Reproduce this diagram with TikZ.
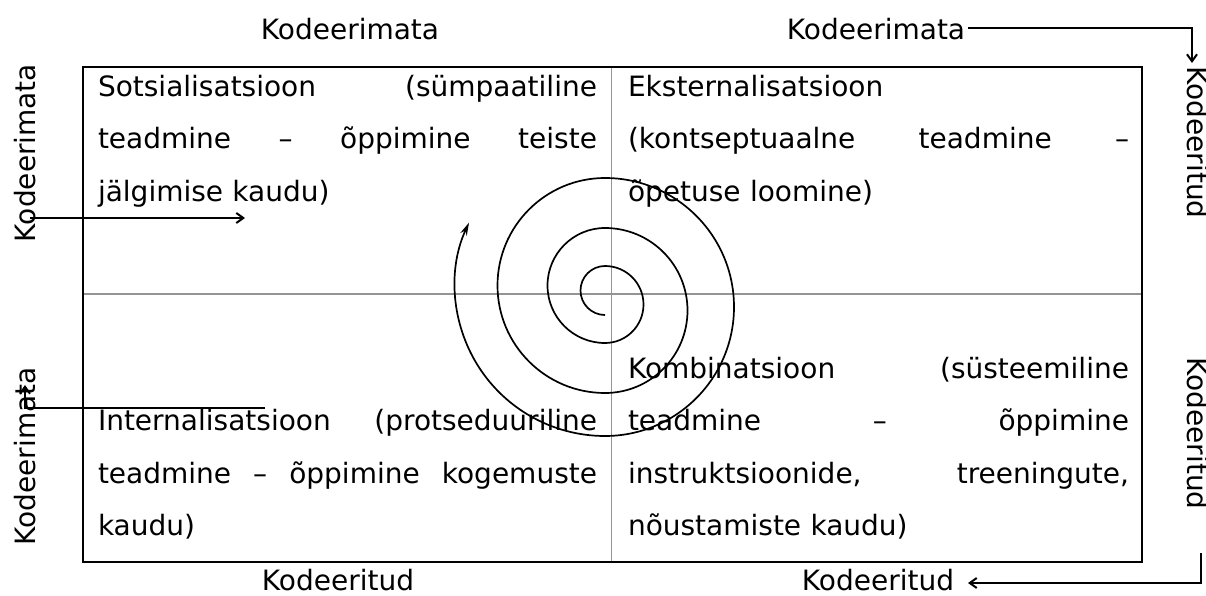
\documentclass[tikz,border=0pt]{standalone}
\usepackage{fontspec}
\setmainfont{DejaVu Sans}
\usetikzlibrary{arrows.meta}
\newcommand{\jl}[2]{\leavevmode\hbox to #1pt{#2}}
\begin{document}
\begin{tikzpicture}[x=1pt,y=1pt,
  txt/.style={font=\fontsize{28}{52.5}\selectfont, inner sep=0pt, outer sep=0pt},
  cell/.style={txt, anchor=base west, align=left},
  lab/.style={txt, anchor=base},
  frame/.style={line width=2.4pt},
  divider/.style={line width=1.5pt, draw=black!42},
  conn/.style={line width=2pt, -{Straight Barb[length=7pt,width=10pt]}},
  spiral/.style={line width=1.7pt}]
\useasboundingbox (0,0) rectangle (1206,595);

% dividers and frame
\draw[divider] (611.5,33) -- (611.5,528);
\draw[divider] (83,301) -- (1142,301);
\draw[frame] (83,33) rectangle (1142,528);

% cell texts
\node[cell, text width=499pt] (tl) at (98,498.5)
  {\jl{499}{Sotsialisatsioon\hfill(sümpaatiline}\\\jl{499}{teadmine\hfill–\hfill õppimine\hfill teiste}\\jälgimise kaudu)};
\node[cell, text width=501pt] (tr) at (628,498.5)
  {Eksternalisatsioon\\\jl{501}{(kontseptuaalne\hfill teadmine\hfill–}\\õpetuse loomine)};
\node[cell, text width=499pt] (bl) at (98,164.5)
  {\jl{499}{Internalisatsioon\hfill(protseduuriline}\\\jl{499}{teadmine\hfill–\hfill õppimine\hfill kogemuste}\\kaudu)};
\node[cell, text width=501pt] (br) at (628,217)
  {\jl{501}{Kombinatsioon\hfill(süsteemiline}\\\jl{501}{teadmine\hfill–\hfill õppimine}\\\jl{501}{instruktsioonide,\hfill treeningute,}\\nõustamiste kaudu)};

% outer labels
\node[lab] (kt1) at (350,555) {Kodeerimata};
\node[lab] (kt2) at (876,555) {Kodeerimata};
\node[lab] (kb1) at (338,5) {Kodeeritud};
\node[lab] (kb2) at (878,5) {Kodeeritud};
\node[lab, rotate=90] (kl1) at (35,442) {Kodeerimata};
\node[lab, rotate=90] (kl2) at (35,138.5) {Kodeerimata};
\node[lab, rotate=-90] (kr1) at (1187,452.5) {Kodeeritud};
\node[lab, rotate=-90] (kr2) at (1187,161.5) {Kodeeritud};

% connectors
\coordinate (trA) at (968,567);
\coordinate (trB) at (1192,532);
\coordinate (brA) at (1201,42);
\coordinate (brB) at (968,12);
\coordinate (ltA) at (30,377);
\coordinate (ltB) at (245,377);
\coordinate (lbA) at (265,187);
\coordinate (lbB) at (25,210);
\draw[conn] (trA) -| (trB);
\draw[conn] (brA) |- (brB);
\draw[conn] (ltA) -- (ltB);
\draw[conn] (lbA) -| (lbB);

% spiral
\draw[spiral, -{Stealth[length=13pt,width=7pt]}] (605,280)
  arc[start angle=270, end angle=90, radius=24.5]
  arc[start angle=90, end angle=-90, radius=38.5]
  arc[start angle=270, end angle=90, radius=57.5]
  arc[start angle=90, end angle=-90, radius=82.5]
  arc[start angle=270, end angle=90, radius=107.5]
  arc[start angle=90, end angle=-90, radius=129]
  arc[start angle=270, end angle=155, radius=150];
\end{tikzpicture}
\end{document}
